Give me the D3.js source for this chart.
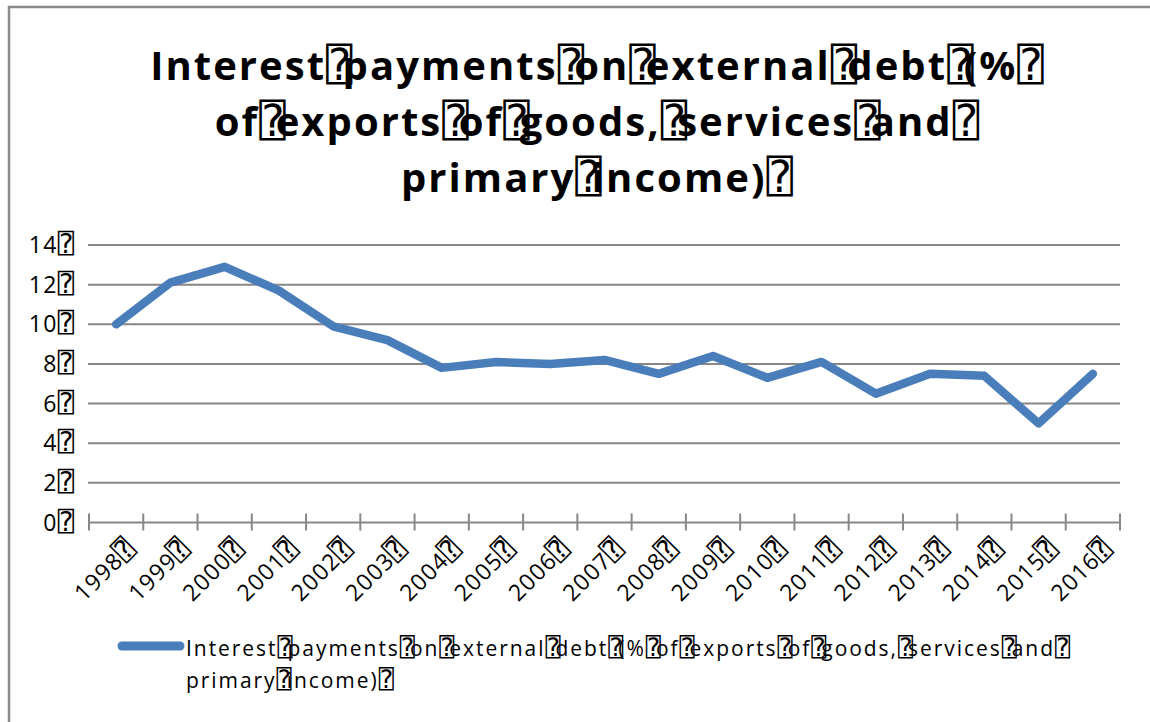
<!DOCTYPE html>
<html>
<head>
<meta charset="utf-8">
<script src="https://cdn.jsdelivr.net/npm/d3@7/dist/d3.min.js"></script>
<style>
  html, body { margin: 0; padding: 0; background: #fff; }
  svg { display: block; }
  text { font-family: "Open Sans", "DejaVu Sans", sans-serif; fill: #000; }
  .tofu { font-family: "DejaVu Sans Mono", "DejaVu Sans", monospace; font-weight: normal; letter-spacing: 0; }
</style>
</head>
<body>
<svg id="chart" width="1150" height="722"></svg>
<script>
// Interest payments on external debt, 1998-2016
const years = ["1998","1999","2000","2001","2002","2003","2004","2005","2006","2007",
               "2008","2009","2010","2011","2012","2013","2014","2015","2016"];
const interestPct = [10.0, 12.1, 12.9, 11.7, 9.9, 9.2, 7.8, 8.1, 8.0, 8.2,
                     7.5, 8.4, 7.3, 8.1, 6.5, 7.5, 7.4, 5.0, 7.5];
const yTicks = [0, 2, 4, 6, 8, 10, 12, 14];
const titleLines = ["Interest payments on external debt (% ",
                    "of exports of goods, services and ",
                    "primary income) "];
const legendLines = ["Interest payments on external debt (% of exports of goods, services and ",
                     "primary income) "];

const TOFU = "\u2370";
const svg = d3.select("#chart");

// Writes a string into a <text>, showing every space as a boxed glyph
function writeBoxed(textSel, str, boxSize, nextDx) {
  const parts = str.split(" ");
  parts.forEach((p, i) => {
    if (p) {
      const t = textSel.append("tspan").text(p);
      if (i > 0) t.attr("dx", nextDx);
    }
    if (i < parts.length - 1) {
      textSel.append("tspan").attr("class", "tofu")
        .attr("font-size", boxSize).text(TOFU);
    }
  });
}

// outer frame
svg.append("rect")
  .attr("x", 9).attr("y", 7).attr("width", 1300).attr("height", 900)
  .attr("fill", "none").attr("stroke", "#8a8a8a").attr("stroke-width", 2.5);

// title
const title = svg.append("g");
const titleY = [80, 136, 192];
titleLines.forEach((line, i) => {
  const t = title.append("text")
    .attr("x", 597).attr("y", titleY[i])
    .attr("text-anchor", "middle")
    .attr("font-size", 40).attr("font-weight", "bold")
    .attr("letter-spacing", 2.05);
  writeBoxed(t, line, 44, -10);
});

// scales
const x = d3.scaleBand().domain(years).range([89, 1120]);
const y = d3.scaleLinear().domain([0, 14]).range([522.5, 245]);

// horizontal gridlines
svg.append("g").selectAll("line")
  .data(yTicks.filter(d => d > 0))
  .join("line")
  .attr("x1", 88).attr("x2", 1120)
  .attr("y1", d => y(d)).attr("y2", d => y(d))
  .attr("stroke", "#878787").attr("stroke-width", 2);

// y-axis labels
svg.append("g").selectAll("text")
  .data(yTicks)
  .join("text")
  .attr("x", 74).attr("y", d => y(d) + 8)
  .attr("text-anchor", "end")
  .attr("font-size", 23)
  .attr("letter-spacing", 1.4)
  .each(function(d) { writeBoxed(d3.select(this), d + " ", 27, 0); });

// category axis with ticks at band boundaries
const xAxis = svg.append("g");
xAxis.append("line")
  .attr("x1", x.range()[0] - 1).attr("x2", x.range()[1])
  .attr("y1", y(0)).attr("y2", y(0))
  .attr("stroke", "#878787").attr("stroke-width", 2);
const bounds = years.map(d => x(d)).concat([x.range()[1]]);
xAxis.selectAll("line.tick")
  .data(bounds)
  .join("line").attr("class", "tick")
  .attr("x1", d => d).attr("x2", d => d)
  .attr("y1", y(0) - 9).attr("y2", y(0) + 8)
  .attr("stroke", "#878787").attr("stroke-width", 2);

xAxis.selectAll("text")
  .data(years)
  .join("text")
  .attr("transform", d => `translate(${x(d) + x.bandwidth() / 2 + 20},${y(0) + 28}) rotate(-45)`)
  .attr("text-anchor", "end")
  .attr("font-size", 23)
  .attr("letter-spacing", 1.2)
  .each(function(d) { writeBoxed(d3.select(this), d + " ", 27, 0); });

// series line
const lineGen = d3.line()
  .x((d, i) => x(years[i]) + x.bandwidth() / 2)
  .y(d => y(d));
svg.append("path")
  .datum(interestPct)
  .attr("d", lineGen)
  .attr("fill", "none")
  .attr("stroke", "#4a7ebb")
  .attr("stroke-width", 8.5)
  .attr("stroke-linejoin", "round")
  .attr("stroke-linecap", "round");

// legend
const legend = svg.append("g");
legend.append("line")
  .attr("x1", 122).attr("x2", 180).attr("y1", 646).attr("y2", 646)
  .attr("stroke", "#4a7ebb").attr("stroke-width", 9).attr("stroke-linecap", "round");
legendLines.forEach((line, i) => {
  const t = legend.append("text")
    .attr("x", 186).attr("y", 656 + i * 32)
    .attr("font-size", 21)
    .attr("letter-spacing", 1.95);
  writeBoxed(t, line, 25, -5);
});
</script>
</body>
</html>
